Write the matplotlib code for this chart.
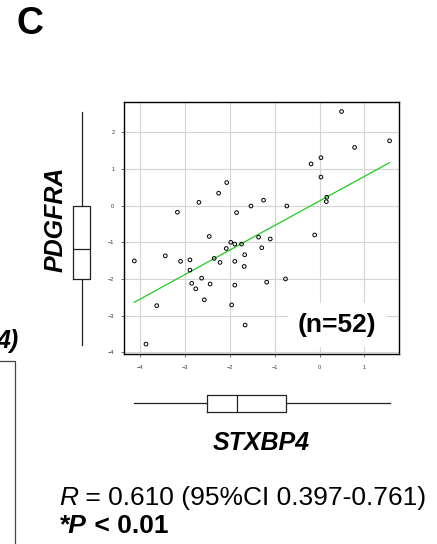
import numpy as np
import matplotlib
matplotlib.use("Agg")
import matplotlib.pyplot as plt
from matplotlib.lines import Line2D

plt.rcParams['font.family'] = ['Liberation Sans', 'DejaVu Sans']

# STXBP4 (x) vs PDGFRA (y)
stxbp4 = [-4.13, -3.87, -3.63, -3.44, -3.17, -3.10, -2.89, -2.89, -2.85, -2.76,
          -2.69, -2.63, -2.57, -2.46, -2.44, -2.35, -2.25, -2.22, -2.08, -2.07,
          -1.98, -1.96, -1.89, -1.89, -1.89, -1.85, -1.74, -1.68, -1.67, -1.66,
          -1.53, -1.36, -1.29, -1.25, -1.18, -1.10, -0.76, -0.73, -0.19, -0.11,
          0.03, 0.03, 0.16, 0.15, 0.49, 0.78, 1.56]
pdgfra = [-1.51, -3.78, -2.73, -1.37, -0.18, -1.52, -1.48, -1.76, -2.12, -2.27,
          0.09, -1.98, -2.57, -0.84, -2.14, -1.44, 0.34, -1.55, -1.17, 0.63,
          -1.00, -2.71, -1.05, -1.52, -2.17, -0.19, -1.05, -1.66, -1.34, -3.26,
          -0.01, -0.86, -1.15, 0.15, -2.09, -0.91, -2.00, -0.01, 1.14, -0.80,
          1.31, 0.78, 0.23, 0.11, 2.57, 1.59, 1.77]

# fitted line (slope, intercept) and box summaries as drawn
fit_slope, fit_intercept = 0.67, 0.13
x_box = dict(whislo=-4.13, q1=-2.51, med=-1.85, q3=-0.75, whishi=1.56)
y_box = dict(whislo=-3.80, q1=-2.00, med=-1.17, q3=0.00, whishi=2.56)

x_ticks = [-4, -3, -2, -1, 0, 1]
y_ticks = [-4, -3, -2, -1, 0, 1, 2]
xlim = (-4.36, 1.77)
ylim = (-4.05, 2.83)

W, H = 437, 544
fig = plt.figure(figsize=(W / 100, H / 100), dpi=100)


def rect(x0, y0, x1, y1):
    # pixel box (top-left origin) -> figure fraction
    return [x0 / W, 1 - y1 / H, (x1 - x0) / W, (y1 - y0) / H]


def fx(px):
    return px / W


def fy(py):
    return 1 - py / H


# main scatter
ax = fig.add_axes(rect(124, 102, 399, 354))
ax.grid(True, color='#d4d4d4', lw=0.8)
ax.set_axisbelow(True)
ax.scatter(stxbp4, pdgfra, s=7, facecolors='none', edgecolors='black', linewidths=0.7, zorder=3)
xs = np.array([min(stxbp4), max(stxbp4)])
ax.plot(xs, fit_slope * xs + fit_intercept, color='#22cc22', lw=0.9, zorder=2)
ax.set_xlim(xlim)
ax.set_ylim(ylim)
ax.set_xticks(x_ticks)
ax.set_yticks(y_ticks)
ax.tick_params(axis='both', labelsize=4, length=2, width=0.5, colors='#333333')
ax.tick_params(axis='x', pad=6)
ax.tick_params(axis='y', pad=5)
for s in ax.spines.values():
    s.set_linewidth(1.0)
    s.set_color('black')
ax.text(0.775, 0.115, '(n=52)', transform=ax.transAxes, ha='center', va='center',
        fontsize=19, fontweight='bold', zorder=5,
        bbox=dict(facecolor='white', edgecolor='none', pad=7))

# marginal boxplot for PDGFRA (left)
axl = fig.add_axes(rect(62, 102, 102, 354))
axl.bxp([y_box], positions=[0.5], widths=17 / 40, vert=True, showcaps=False,
        showfliers=False,
        boxprops=dict(color='#222222', lw=0.9),
        whiskerprops=dict(color='#222222', lw=0.9),
        medianprops=dict(color='#222222', lw=0.9))
axl.set_xlim(0, 1)
axl.set_ylim(ylim)
axl.axis('off')

# marginal boxplot for STXBP4 (bottom)
axb = fig.add_axes(rect(124, 383, 399, 423))
axb.bxp([x_box], positions=[0.5], widths=17 / 40, vert=False, showcaps=False,
        showfliers=False,
        boxprops=dict(color='#222222', lw=0.9),
        whiskerprops=dict(color='#222222', lw=0.9),
        medianprops=dict(color='#222222', lw=0.9))
axb.set_ylim(0, 1)
axb.set_xlim(xlim)
axb.axis('off')

# labels
fig.text(fx(16), fy(24), 'C', fontsize=27, fontweight='bold', ha='left', va='center')
fig.text(fx(56), fy(219), 'PDGFRA', rotation=90, fontsize=18, fontweight='bold',
         style='italic', ha='center', va='center')
fig.text(fx(261), fy(443), 'STXBP4', fontsize=18, fontweight='bold',
         style='italic', ha='center', va='center')

# leftover of neighbouring panel
fig.text(fx(19), fy(341), '4)', fontsize=18, fontweight='bold', style='italic',
         ha='right', va='center')
fig.add_artist(Line2D([0, fx(15), fx(15)], [fy(361), fy(361), 0],
                      transform=fig.transFigure, color='#444444', lw=0.9))

# statistics text, italic R / P followed by upright remainder
fig.canvas.draw()
renderer = fig.canvas.get_renderer()
t1 = fig.text(fx(59), fy(498), 'R', fontsize=19, style='italic', ha='left', va='center')
e1 = t1.get_window_extent(renderer)
fig.text(e1.x1 / W, fy(498), ' = 0.610 (95%CI 0.397-0.761)', fontsize=19,
         ha='left', va='center')
t2 = fig.text(fx(59), fy(526), '*P', fontsize=19, style='italic', fontweight='bold',
              ha='left', va='center')
e2 = t2.get_window_extent(renderer)
fig.text(e2.x1 / W, fy(526), ' < 0.01', fontsize=19, fontweight='bold',
         ha='left', va='center')

fig.savefig('out.png', dpi=100)
